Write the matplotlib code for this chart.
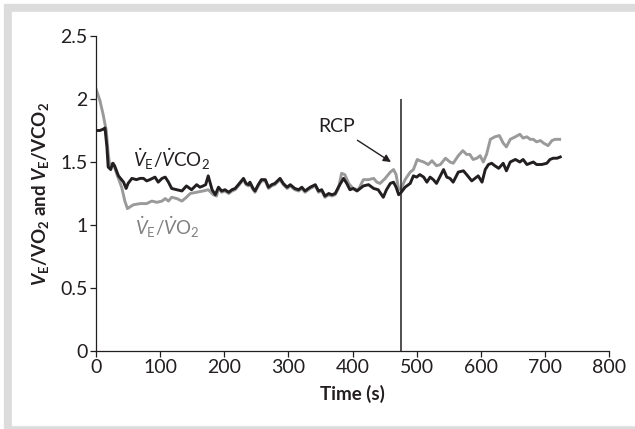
import matplotlib
matplotlib.use("Agg")
import matplotlib.pyplot as plt
from matplotlib.patches import Rectangle

# V'E/V'CO2 (black) and V'E/V'O2 (gray) ratios over time
t_co2 = [0, 6, 11, 14, 17, 19, 23, 26, 29, 35, 43, 47, 50, 56, 63, 69, 74, 79, 84, 92,
         97, 103, 108, 113, 118, 126, 134, 141, 149, 157, 162, 167, 171, 175, 181, 186, 191, 196, 201, 207,
         212, 217, 222, 230, 234, 238, 240, 245, 248, 253, 258, 264, 269, 274, 279, 287, 292, 298, 303, 310,
         316, 321, 326, 334, 342, 347, 352, 357, 363, 368, 373, 378, 386, 391, 396, 401, 407, 412, 417, 425,
         433, 440, 448, 453, 459, 464, 468, 472, 476, 482, 490, 495, 500, 505, 511, 516, 521, 526, 531, 537,
         542, 547, 552, 557, 565, 573, 578, 586, 591, 596, 602, 607, 612, 617, 622, 628, 635, 640, 646, 654,
         661, 666, 672, 677, 682, 687, 695, 703, 708, 713, 719, 724]
ve_vco2 = [1.75, 1.75, 1.76, 1.77, 1.62, 1.46, 1.44, 1.49, 1.47, 1.39, 1.34, 1.29, 1.33, 1.37, 1.36, 1.37, 1.37, 1.35, 1.36, 1.38,
           1.34, 1.37, 1.38, 1.34, 1.29, 1.28, 1.27, 1.31, 1.28, 1.32, 1.30, 1.31, 1.32, 1.39, 1.28, 1.24, 1.30, 1.27, 1.28, 1.26,
           1.28, 1.29, 1.32, 1.37, 1.33, 1.32, 1.34, 1.29, 1.27, 1.32, 1.36, 1.36, 1.30, 1.32, 1.33, 1.37, 1.33, 1.30, 1.32, 1.29,
           1.28, 1.30, 1.27, 1.30, 1.32, 1.27, 1.28, 1.23, 1.25, 1.24, 1.25, 1.30, 1.37, 1.33, 1.28, 1.29, 1.27, 1.29, 1.31, 1.32,
           1.29, 1.28, 1.22, 1.28, 1.33, 1.34, 1.30, 1.24, 1.26, 1.30, 1.33, 1.39, 1.38, 1.40, 1.38, 1.34, 1.38, 1.36, 1.33, 1.39,
           1.44, 1.38, 1.37, 1.34, 1.42, 1.43, 1.40, 1.35, 1.37, 1.39, 1.34, 1.44, 1.48, 1.49, 1.47, 1.45, 1.49, 1.43, 1.50, 1.52,
           1.50, 1.52, 1.48, 1.49, 1.50, 1.48, 1.48, 1.49, 1.52, 1.53, 1.53, 1.54]

t_o2 = [0, 6, 11, 16, 19, 22, 27, 32, 40, 45, 49, 52, 58, 69, 79, 87, 95, 103, 108, 113,
        118, 126, 134, 141, 147, 157, 167, 175, 183, 188, 191, 196, 201, 207, 212, 217, 222, 230, 234, 238,
        240, 245, 248, 253, 258, 264, 269, 274, 279, 287, 292, 298, 303, 310, 316, 321, 326, 334, 342, 347,
        352, 357, 363, 368, 373, 378, 383, 388, 394, 401, 409, 417, 425, 433, 438, 443, 451, 459, 464, 468,
        472, 476, 482, 490, 495, 501, 505, 511, 518, 524, 531, 537, 545, 552, 557, 565, 572, 578, 583, 588,
        594, 599, 604, 609, 615, 622, 629, 635, 640, 646, 654, 661, 666, 672, 677, 682, 687, 693, 698, 705,
        711, 716, 723]
ve_vo2 = [2.08, 1.99, 1.88, 1.75, 1.57, 1.45, 1.49, 1.41, 1.30, 1.19, 1.13, 1.14, 1.16, 1.17, 1.17, 1.19, 1.18, 1.19, 1.21, 1.19,
          1.22, 1.21, 1.19, 1.22, 1.25, 1.26, 1.27, 1.28, 1.24, 1.23, 1.29, 1.26, 1.27, 1.25, 1.27, 1.28, 1.31, 1.36, 1.32, 1.31,
          1.33, 1.28, 1.26, 1.31, 1.35, 1.35, 1.29, 1.31, 1.32, 1.36, 1.32, 1.29, 1.31, 1.28, 1.27, 1.29, 1.26, 1.29, 1.31, 1.26,
          1.27, 1.22, 1.24, 1.23, 1.24, 1.29, 1.41, 1.40, 1.33, 1.29, 1.28, 1.36, 1.36, 1.37, 1.34, 1.33, 1.37, 1.42, 1.44, 1.40,
          1.28, 1.29, 1.36, 1.42, 1.44, 1.52, 1.51, 1.50, 1.48, 1.51, 1.47, 1.48, 1.53, 1.50, 1.49, 1.55, 1.59, 1.56, 1.56, 1.52,
          1.53, 1.55, 1.50, 1.56, 1.68, 1.70, 1.71, 1.65, 1.62, 1.68, 1.70, 1.72, 1.69, 1.70, 1.68, 1.68, 1.66, 1.67, 1.65, 1.63,
          1.67, 1.68, 1.68]

RCP_T = 475
xticks = [0, 100, 200, 300, 400, 500, 600, 700, 800]
yticks = [0, 0.5, 1, 1.5, 2, 2.5]
ytick_labels = ["0", "0.5", "1", "1.5", "2", "2.5"]

FONT = "Lato"
DARK = "#231f20"
GRAY = "#9a9a9a"

plt.rcParams["font.family"] = [FONT, "DejaVu Sans"]
plt.rcParams["mathtext.fontset"] = "custom"
plt.rcParams["mathtext.rm"] = FONT
plt.rcParams["mathtext.it"] = FONT + ":italic"
plt.rcParams["mathtext.bf"] = FONT + ":bold"
plt.rcParams["mathtext.bfit"] = FONT + ":italic:bold"

W, H = 635, 429
fig = plt.figure(figsize=(W / 100, H / 100), dpi=100)
# light gray frame round the panel
fig.patches.append(Rectangle((4 / W, 1 / H), 1, 1 - 5 / H, transform=fig.transFigure,
                             color="#dcdcdc", zorder=-2))
fig.patches.append(Rectangle((12 / W, 4 / H), 1, 1 - 16 / H, transform=fig.transFigure,
                             color="white", zorder=-1))

ax = fig.add_axes([96 / W, 1 - 351 / H, (609 - 96) / W, (351 - 36) / H])
ax.set_facecolor("none")

ax.plot(t_o2, ve_vo2, color=GRAY, lw=2.1, solid_joinstyle="round")
ax.plot(t_co2, ve_vco2, color=DARK, lw=2.1, solid_joinstyle="round")
ax.vlines(RCP_T, 0, 2, color=DARK, lw=1.1)

ax.annotate("RCP", xy=(460, 1.50), xytext=(375, 1.78), ha="center", va="center",
            fontsize=14, color=DARK,
            arrowprops=dict(arrowstyle="-|>", color=DARK, lw=1.0, mutation_scale=11,
                            shrinkA=3, shrinkB=0))
ax.text(117, 1.52, r"$\dot{V}_{\mathrm{E}}/\dot{V}\mathrm{CO}_2$", ha="center", va="center",
        fontsize=13.5, color=DARK)
ax.text(111, 0.98, r"$\dot{V}_{\mathrm{E}}/\dot{V}\mathrm{O}_2$", ha="center", va="center",
        fontsize=13.5, color="#808080")

ax.set_xlim(0, 800)
ax.set_ylim(0, 2.5)
ax.set_xticks(xticks)
ax.set_yticks(yticks)
ax.set_yticklabels(ytick_labels)
ax.tick_params(labelsize=14, colors=DARK, length=4, width=0.9, pad=2)
for s in ("top", "right"):
    ax.spines[s].set_visible(False)
for s in ("left", "bottom"):
    ax.spines[s].set_color(DARK)
    ax.spines[s].set_linewidth(0.9)

ax.set_xlabel("Time (s)", fontsize=13.5, fontweight="bold", color=DARK, labelpad=6)
ax.set_ylabel(r"$\mathbfit{V}_{\mathbf{E}}$/VO$_\mathbf{2}$ and $\mathbfit{V}_{\mathbf{E}}$/VCO$_\mathbf{2}$",
              fontsize=13.5, fontweight="bold", color=DARK, labelpad=7)

fig.savefig("out.png", dpi=100)
